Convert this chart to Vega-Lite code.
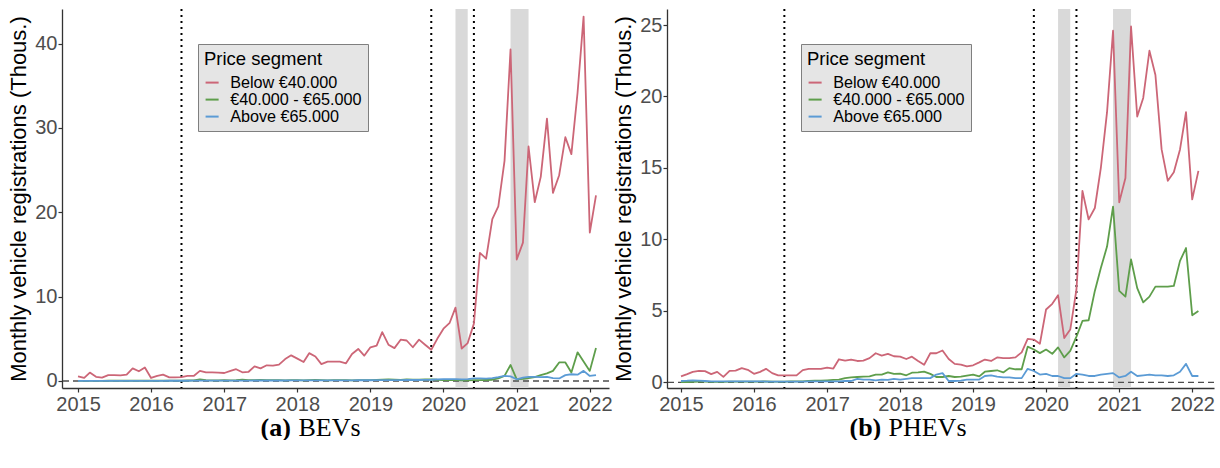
{
  "$schema": "https://vega.github.io/schema/vega-lite/v6.json",
  "padding": {"left": 7, "top": 8, "right": 0, "bottom": 0},
  "background": "white",
  "datasets": {
    "segments": [{"s": "lo", "name": "Below €40.000"}, {"s": "mid", "name": "€40.000 - €65.000"}, {"s": "hi", "name": "Above €65.000"}],
    "bev": [
      {"t":"2015-01","s":"lo","v":0.55},{"t":"2015-02","s":"lo","v":0.36},{"t":"2015-03","s":"lo","v":1.0},{"t":"2015-04","s":"lo","v":0.5},{"t":"2015-05","s":"lo","v":0.4},{"t":"2015-06","s":"lo","v":0.7},{"t":"2015-07","s":"lo","v":0.7},{"t":"2015-08","s":"lo","v":0.67},{"t":"2015-09","s":"lo","v":0.75},{"t":"2015-10","s":"lo","v":1.5},{"t":"2015-11","s":"lo","v":1.15},{"t":"2015-12","s":"lo","v":1.6},
      {"t":"2016-01","s":"lo","v":0.36},{"t":"2016-02","s":"lo","v":0.6},{"t":"2016-03","s":"lo","v":0.75},{"t":"2016-04","s":"lo","v":0.43},{"t":"2016-05","s":"lo","v":0.43},{"t":"2016-06","s":"lo","v":0.47},{"t":"2016-07","s":"lo","v":0.6},{"t":"2016-08","s":"lo","v":0.6},{"t":"2016-09","s":"lo","v":1.2},{"t":"2016-10","s":"lo","v":1.03},{"t":"2016-11","s":"lo","v":1.03},{"t":"2016-12","s":"lo","v":1.0},
      {"t":"2017-01","s":"lo","v":0.95},{"t":"2017-02","s":"lo","v":1.2},{"t":"2017-03","s":"lo","v":1.4},{"t":"2017-04","s":"lo","v":1.03},{"t":"2017-05","s":"lo","v":1.07},{"t":"2017-06","s":"lo","v":1.74},{"t":"2017-07","s":"lo","v":1.5},{"t":"2017-08","s":"lo","v":1.86},{"t":"2017-09","s":"lo","v":1.82},{"t":"2017-10","s":"lo","v":1.94},{"t":"2017-11","s":"lo","v":2.6},{"t":"2017-12","s":"lo","v":3.04},
      {"t":"2018-01","s":"lo","v":2.65},{"t":"2018-02","s":"lo","v":2.25},{"t":"2018-03","s":"lo","v":3.3},{"t":"2018-04","s":"lo","v":2.9},{"t":"2018-05","s":"lo","v":2.0},{"t":"2018-06","s":"lo","v":2.3},{"t":"2018-07","s":"lo","v":2.3},{"t":"2018-08","s":"lo","v":2.3},{"t":"2018-09","s":"lo","v":2.1},{"t":"2018-10","s":"lo","v":3.2},{"t":"2018-11","s":"lo","v":3.8},{"t":"2018-12","s":"lo","v":3.0},
      {"t":"2019-01","s":"lo","v":4.0},{"t":"2019-02","s":"lo","v":4.2},{"t":"2019-03","s":"lo","v":5.8},{"t":"2019-04","s":"lo","v":4.3},{"t":"2019-05","s":"lo","v":3.9},{"t":"2019-06","s":"lo","v":4.9},{"t":"2019-07","s":"lo","v":4.8},{"t":"2019-08","s":"lo","v":4.0},{"t":"2019-09","s":"lo","v":4.9},{"t":"2019-10","s":"lo","v":4.3},{"t":"2019-11","s":"lo","v":3.7},{"t":"2019-12","s":"lo","v":5.0},
      {"t":"2020-01","s":"lo","v":6.2},{"t":"2020-02","s":"lo","v":6.9},{"t":"2020-03","s":"lo","v":8.7},{"t":"2020-04","s":"lo","v":3.85},{"t":"2020-05","s":"lo","v":4.5},{"t":"2020-06","s":"lo","v":6.8},{"t":"2020-07","s":"lo","v":15.2},{"t":"2020-08","s":"lo","v":14.5},{"t":"2020-09","s":"lo","v":19.2},{"t":"2020-10","s":"lo","v":20.7},{"t":"2020-11","s":"lo","v":26.1},{"t":"2020-12","s":"lo","v":39.3},
      {"t":"2021-01","s":"lo","v":14.4},{"t":"2021-02","s":"lo","v":16.4},{"t":"2021-03","s":"lo","v":27.8},{"t":"2021-04","s":"lo","v":21.2},{"t":"2021-05","s":"lo","v":24.2},{"t":"2021-06","s":"lo","v":31.1},{"t":"2021-07","s":"lo","v":22.3},{"t":"2021-08","s":"lo","v":24.4},{"t":"2021-09","s":"lo","v":28.9},{"t":"2021-10","s":"lo","v":26.9},{"t":"2021-11","s":"lo","v":34.2},{"t":"2021-12","s":"lo","v":43.2},
      {"t":"2022-01","s":"lo","v":17.6},{"t":"2022-02","s":"lo","v":22.0},
      {"t":"2015-01","s":"mid","v":0.02},{"t":"2015-02","s":"mid","v":0.02},{"t":"2015-03","s":"mid","v":0.02},{"t":"2015-04","s":"mid","v":0.02},{"t":"2015-05","s":"mid","v":0.02},{"t":"2015-06","s":"mid","v":0.03},{"t":"2015-07","s":"mid","v":0.03},{"t":"2015-08","s":"mid","v":0.03},{"t":"2015-09","s":"mid","v":0.03},{"t":"2015-10","s":"mid","v":0.03},{"t":"2015-11","s":"mid","v":0.03},{"t":"2015-12","s":"mid","v":0.03},
      {"t":"2016-01","s":"mid","v":0.03},{"t":"2016-02","s":"mid","v":0.03},{"t":"2016-03","s":"mid","v":0.04},{"t":"2016-04","s":"mid","v":0.04},{"t":"2016-05","s":"mid","v":0.04},{"t":"2016-06","s":"mid","v":0.05},{"t":"2016-07","s":"mid","v":0.06},{"t":"2016-08","s":"mid","v":0.08},{"t":"2016-09","s":"mid","v":0.2},{"t":"2016-10","s":"mid","v":0.1},{"t":"2016-11","s":"mid","v":0.08},{"t":"2016-12","s":"mid","v":0.08},
      {"t":"2017-01","s":"mid","v":0.1},{"t":"2017-02","s":"mid","v":0.08},{"t":"2017-03","s":"mid","v":0.1},{"t":"2017-04","s":"mid","v":0.15},{"t":"2017-05","s":"mid","v":0.1},{"t":"2017-06","s":"mid","v":0.1},{"t":"2017-07","s":"mid","v":0.12},{"t":"2017-08","s":"mid","v":0.1},{"t":"2017-09","s":"mid","v":0.1},{"t":"2017-10","s":"mid","v":0.1},{"t":"2017-11","s":"mid","v":0.08},{"t":"2017-12","s":"mid","v":0.1},
      {"t":"2018-01","s":"mid","v":0.1},{"t":"2018-02","s":"mid","v":0.08},{"t":"2018-03","s":"mid","v":0.1},{"t":"2018-04","s":"mid","v":0.12},{"t":"2018-05","s":"mid","v":0.1},{"t":"2018-06","s":"mid","v":0.08},{"t":"2018-07","s":"mid","v":0.1},{"t":"2018-08","s":"mid","v":0.1},{"t":"2018-09","s":"mid","v":0.1},{"t":"2018-10","s":"mid","v":0.08},{"t":"2018-11","s":"mid","v":0.1},{"t":"2018-12","s":"mid","v":0.1},
      {"t":"2019-01","s":"mid","v":0.1},{"t":"2019-02","s":"mid","v":0.12},{"t":"2019-03","s":"mid","v":0.15},{"t":"2019-04","s":"mid","v":0.18},{"t":"2019-05","s":"mid","v":0.15},{"t":"2019-06","s":"mid","v":0.12},{"t":"2019-07","s":"mid","v":0.18},{"t":"2019-08","s":"mid","v":0.15},{"t":"2019-09","s":"mid","v":0.15},{"t":"2019-10","s":"mid","v":0.18},{"t":"2019-11","s":"mid","v":0.2},{"t":"2019-12","s":"mid","v":0.15},
      {"t":"2020-01","s":"mid","v":0.12},{"t":"2020-02","s":"mid","v":0.12},{"t":"2020-03","s":"mid","v":0.1},{"t":"2020-04","s":"mid","v":0.08},{"t":"2020-05","s":"mid","v":0.08},{"t":"2020-06","s":"mid","v":0.1},{"t":"2020-07","s":"mid","v":0.1},{"t":"2020-08","s":"mid","v":0.12},{"t":"2020-09","s":"mid","v":0.15},{"t":"2020-10","s":"mid","v":0.3},{"t":"2020-11","s":"mid","v":0.6},{"t":"2020-12","s":"mid","v":1.9},
      {"t":"2021-01","s":"mid","v":0.2},{"t":"2021-02","s":"mid","v":0.25},{"t":"2021-03","s":"mid","v":0.35},{"t":"2021-04","s":"mid","v":0.45},{"t":"2021-05","s":"mid","v":0.7},{"t":"2021-06","s":"mid","v":0.9},{"t":"2021-07","s":"mid","v":1.2},{"t":"2021-08","s":"mid","v":2.2},{"t":"2021-09","s":"mid","v":2.2},{"t":"2021-10","s":"mid","v":1.0},{"t":"2021-11","s":"mid","v":3.4},{"t":"2021-12","s":"mid","v":2.3},
      {"t":"2022-01","s":"mid","v":1.2},{"t":"2022-02","s":"mid","v":3.9},
      {"t":"2015-01","s":"hi","v":0.02},{"t":"2015-02","s":"hi","v":0.02},{"t":"2015-03","s":"hi","v":0.02},{"t":"2015-04","s":"hi","v":0.02},{"t":"2015-05","s":"hi","v":0.02},{"t":"2015-06","s":"hi","v":0.02},{"t":"2015-07","s":"hi","v":0.02},{"t":"2015-08","s":"hi","v":0.02},{"t":"2015-09","s":"hi","v":0.02},{"t":"2015-10","s":"hi","v":0.02},{"t":"2015-11","s":"hi","v":0.02},{"t":"2015-12","s":"hi","v":0.02},
      {"t":"2016-01","s":"hi","v":0.02},{"t":"2016-02","s":"hi","v":0.02},{"t":"2016-03","s":"hi","v":0.02},{"t":"2016-04","s":"hi","v":0.03},{"t":"2016-05","s":"hi","v":0.03},{"t":"2016-06","s":"hi","v":0.03},{"t":"2016-07","s":"hi","v":0.03},{"t":"2016-08","s":"hi","v":0.04},{"t":"2016-09","s":"hi","v":0.04},{"t":"2016-10","s":"hi","v":0.04},{"t":"2016-11","s":"hi","v":0.04},{"t":"2016-12","s":"hi","v":0.04},
      {"t":"2017-01","s":"hi","v":0.05},{"t":"2017-02","s":"hi","v":0.05},{"t":"2017-03","s":"hi","v":0.05},{"t":"2017-04","s":"hi","v":0.05},{"t":"2017-05","s":"hi","v":0.05},{"t":"2017-06","s":"hi","v":0.06},{"t":"2017-07","s":"hi","v":0.06},{"t":"2017-08","s":"hi","v":0.06},{"t":"2017-09","s":"hi","v":0.06},{"t":"2017-10","s":"hi","v":0.06},{"t":"2017-11","s":"hi","v":0.06},{"t":"2017-12","s":"hi","v":0.07},
      {"t":"2018-01","s":"hi","v":0.07},{"t":"2018-02","s":"hi","v":0.07},{"t":"2018-03","s":"hi","v":0.07},{"t":"2018-04","s":"hi","v":0.08},{"t":"2018-05","s":"hi","v":0.08},{"t":"2018-06","s":"hi","v":0.08},{"t":"2018-07","s":"hi","v":0.08},{"t":"2018-08","s":"hi","v":0.08},{"t":"2018-09","s":"hi","v":0.08},{"t":"2018-10","s":"hi","v":0.08},{"t":"2018-11","s":"hi","v":0.09},{"t":"2018-12","s":"hi","v":0.09},
      {"t":"2019-01","s":"hi","v":0.09},{"t":"2019-02","s":"hi","v":0.1},{"t":"2019-03","s":"hi","v":0.1},{"t":"2019-04","s":"hi","v":0.1},{"t":"2019-05","s":"hi","v":0.1},{"t":"2019-06","s":"hi","v":0.1},{"t":"2019-07","s":"hi","v":0.12},{"t":"2019-08","s":"hi","v":0.12},{"t":"2019-09","s":"hi","v":0.12},{"t":"2019-10","s":"hi","v":0.14},{"t":"2019-11","s":"hi","v":0.15},{"t":"2019-12","s":"hi","v":0.2},
      {"t":"2020-01","s":"hi","v":0.22},{"t":"2020-02","s":"hi","v":0.22},{"t":"2020-03","s":"hi","v":0.22},{"t":"2020-04","s":"hi","v":0.2},{"t":"2020-05","s":"hi","v":0.22},{"t":"2020-06","s":"hi","v":0.3},{"t":"2020-07","s":"hi","v":0.32},{"t":"2020-08","s":"hi","v":0.28},{"t":"2020-09","s":"hi","v":0.35},{"t":"2020-10","s":"hi","v":0.45},{"t":"2020-11","s":"hi","v":0.6},{"t":"2020-12","s":"hi","v":0.55},
      {"t":"2021-01","s":"hi","v":0.2},{"t":"2021-02","s":"hi","v":0.4},{"t":"2021-03","s":"hi","v":0.5},{"t":"2021-04","s":"hi","v":0.5},{"t":"2021-05","s":"hi","v":0.45},{"t":"2021-06","s":"hi","v":0.5},{"t":"2021-07","s":"hi","v":0.35},{"t":"2021-08","s":"hi","v":0.3},{"t":"2021-09","s":"hi","v":0.7},{"t":"2021-10","s":"hi","v":0.8},{"t":"2021-11","s":"hi","v":0.75},{"t":"2021-12","s":"hi","v":1.2},
      {"t":"2022-01","s":"hi","v":0.6},{"t":"2022-02","s":"hi","v":0.7}
    ],
    "phev": [
      {"t":"2015-01","s":"lo","v":0.42},{"t":"2015-02","s":"lo","v":0.58},{"t":"2015-03","s":"lo","v":0.74},{"t":"2015-04","s":"lo","v":0.81},{"t":"2015-05","s":"lo","v":0.79},{"t":"2015-06","s":"lo","v":0.58},{"t":"2015-07","s":"lo","v":0.74},{"t":"2015-08","s":"lo","v":0.39},{"t":"2015-09","s":"lo","v":0.81},{"t":"2015-10","s":"lo","v":0.83},{"t":"2015-11","s":"lo","v":1.0},{"t":"2015-12","s":"lo","v":0.88},
      {"t":"2016-01","s":"lo","v":0.6},{"t":"2016-02","s":"lo","v":0.74},{"t":"2016-03","s":"lo","v":0.95},{"t":"2016-04","s":"lo","v":0.65},{"t":"2016-05","s":"lo","v":0.49},{"t":"2016-06","s":"lo","v":0.49},{"t":"2016-07","s":"lo","v":0.49},{"t":"2016-08","s":"lo","v":0.49},{"t":"2016-09","s":"lo","v":0.86},{"t":"2016-10","s":"lo","v":0.95},{"t":"2016-11","s":"lo","v":0.95},{"t":"2016-12","s":"lo","v":0.95},
      {"t":"2017-01","s":"lo","v":1.04},{"t":"2017-02","s":"lo","v":0.97},{"t":"2017-03","s":"lo","v":1.62},{"t":"2017-04","s":"lo","v":1.53},{"t":"2017-05","s":"lo","v":1.6},{"t":"2017-06","s":"lo","v":1.5},{"t":"2017-07","s":"lo","v":1.53},{"t":"2017-08","s":"lo","v":1.7},{"t":"2017-09","s":"lo","v":2.04},{"t":"2017-10","s":"lo","v":1.88},{"t":"2017-11","s":"lo","v":2.0},{"t":"2017-12","s":"lo","v":1.83},
      {"t":"2018-01","s":"lo","v":1.81},{"t":"2018-02","s":"lo","v":1.64},{"t":"2018-03","s":"lo","v":1.8},{"t":"2018-04","s":"lo","v":1.5},{"t":"2018-05","s":"lo","v":1.23},{"t":"2018-06","s":"lo","v":2.04},{"t":"2018-07","s":"lo","v":2.04},{"t":"2018-08","s":"lo","v":2.23},{"t":"2018-09","s":"lo","v":1.64},{"t":"2018-10","s":"lo","v":1.3},{"t":"2018-11","s":"lo","v":1.25},{"t":"2018-12","s":"lo","v":1.12},
      {"t":"2019-01","s":"lo","v":1.2},{"t":"2019-02","s":"lo","v":1.4},{"t":"2019-03","s":"lo","v":1.6},{"t":"2019-04","s":"lo","v":1.5},{"t":"2019-05","s":"lo","v":1.75},{"t":"2019-06","s":"lo","v":1.7},{"t":"2019-07","s":"lo","v":1.7},{"t":"2019-08","s":"lo","v":1.75},{"t":"2019-09","s":"lo","v":2.1},{"t":"2019-10","s":"lo","v":3.05},{"t":"2019-11","s":"lo","v":3.0},{"t":"2019-12","s":"lo","v":2.7},
      {"t":"2020-01","s":"lo","v":5.1},{"t":"2020-02","s":"lo","v":5.5},{"t":"2020-03","s":"lo","v":6.1},{"t":"2020-04","s":"lo","v":3.1},{"t":"2020-05","s":"lo","v":3.7},{"t":"2020-06","s":"lo","v":6.5},{"t":"2020-07","s":"lo","v":13.4},{"t":"2020-08","s":"lo","v":11.4},{"t":"2020-09","s":"lo","v":12.2},{"t":"2020-10","s":"lo","v":15.0},{"t":"2020-11","s":"lo","v":18.9},{"t":"2020-12","s":"lo","v":24.6},
      {"t":"2021-01","s":"lo","v":12.6},{"t":"2021-02","s":"lo","v":14.3},{"t":"2021-03","s":"lo","v":24.9},{"t":"2021-04","s":"lo","v":18.6},{"t":"2021-05","s":"lo","v":19.9},{"t":"2021-06","s":"lo","v":23.2},{"t":"2021-07","s":"lo","v":21.5},{"t":"2021-08","s":"lo","v":16.3},{"t":"2021-09","s":"lo","v":14.1},{"t":"2021-10","s":"lo","v":14.7},{"t":"2021-11","s":"lo","v":16.3},{"t":"2021-12","s":"lo","v":18.9},
      {"t":"2022-01","s":"lo","v":12.8},{"t":"2022-02","s":"lo","v":14.8},
      {"t":"2015-01","s":"mid","v":0.03},{"t":"2015-02","s":"mid","v":0.03},{"t":"2015-03","s":"mid","v":0.04},{"t":"2015-04","s":"mid","v":0.05},{"t":"2015-05","s":"mid","v":0.05},{"t":"2015-06","s":"mid","v":0.04},{"t":"2015-07","s":"mid","v":0.04},{"t":"2015-08","s":"mid","v":0.04},{"t":"2015-09","s":"mid","v":0.05},{"t":"2015-10","s":"mid","v":0.06},{"t":"2015-11","s":"mid","v":0.06},{"t":"2015-12","s":"mid","v":0.05},
      {"t":"2016-01","s":"mid","v":0.06},{"t":"2016-02","s":"mid","v":0.06},{"t":"2016-03","s":"mid","v":0.07},{"t":"2016-04","s":"mid","v":0.06},{"t":"2016-05","s":"mid","v":0.06},{"t":"2016-06","s":"mid","v":0.06},{"t":"2016-07","s":"mid","v":0.07},{"t":"2016-08","s":"mid","v":0.08},{"t":"2016-09","s":"mid","v":0.08},{"t":"2016-10","s":"mid","v":0.1},{"t":"2016-11","s":"mid","v":0.12},{"t":"2016-12","s":"mid","v":0.12},
      {"t":"2017-01","s":"mid","v":0.15},{"t":"2017-02","s":"mid","v":0.18},{"t":"2017-03","s":"mid","v":0.2},{"t":"2017-04","s":"mid","v":0.3},{"t":"2017-05","s":"mid","v":0.35},{"t":"2017-06","s":"mid","v":0.38},{"t":"2017-07","s":"mid","v":0.4},{"t":"2017-08","s":"mid","v":0.42},{"t":"2017-09","s":"mid","v":0.55},{"t":"2017-10","s":"mid","v":0.55},{"t":"2017-11","s":"mid","v":0.7},{"t":"2017-12","s":"mid","v":0.6},
      {"t":"2018-01","s":"mid","v":0.62},{"t":"2018-02","s":"mid","v":0.5},{"t":"2018-03","s":"mid","v":0.68},{"t":"2018-04","s":"mid","v":0.7},{"t":"2018-05","s":"mid","v":0.75},{"t":"2018-06","s":"mid","v":0.6},{"t":"2018-07","s":"mid","v":0.38},{"t":"2018-08","s":"mid","v":0.38},{"t":"2018-09","s":"mid","v":0.45},{"t":"2018-10","s":"mid","v":0.38},{"t":"2018-11","s":"mid","v":0.4},{"t":"2018-12","s":"mid","v":0.48},
      {"t":"2019-01","s":"mid","v":0.55},{"t":"2019-02","s":"mid","v":0.42},{"t":"2019-03","s":"mid","v":0.75},{"t":"2019-04","s":"mid","v":0.8},{"t":"2019-05","s":"mid","v":0.85},{"t":"2019-06","s":"mid","v":0.7},{"t":"2019-07","s":"mid","v":1.0},{"t":"2019-08","s":"mid","v":0.92},{"t":"2019-09","s":"mid","v":0.92},{"t":"2019-10","s":"mid","v":2.5},{"t":"2019-11","s":"mid","v":2.3},{"t":"2019-12","s":"mid","v":2.05},
      {"t":"2020-01","s":"mid","v":2.3},{"t":"2020-02","s":"mid","v":2.0},{"t":"2020-03","s":"mid","v":2.45},{"t":"2020-04","s":"mid","v":1.75},{"t":"2020-05","s":"mid","v":2.2},{"t":"2020-06","s":"mid","v":3.2},{"t":"2020-07","s":"mid","v":4.3},{"t":"2020-08","s":"mid","v":4.35},{"t":"2020-09","s":"mid","v":6.4},{"t":"2020-10","s":"mid","v":8.0},{"t":"2020-11","s":"mid","v":9.5},{"t":"2020-12","s":"mid","v":12.3},
      {"t":"2021-01","s":"mid","v":6.4},{"t":"2021-02","s":"mid","v":6.0},{"t":"2021-03","s":"mid","v":8.6},{"t":"2021-04","s":"mid","v":6.6},{"t":"2021-05","s":"mid","v":5.6},{"t":"2021-06","s":"mid","v":6.0},{"t":"2021-07","s":"mid","v":6.7},{"t":"2021-08","s":"mid","v":6.7},{"t":"2021-09","s":"mid","v":6.7},{"t":"2021-10","s":"mid","v":6.75},{"t":"2021-11","s":"mid","v":8.5},{"t":"2021-12","s":"mid","v":9.4},
      {"t":"2022-01","s":"mid","v":4.7},{"t":"2022-02","s":"mid","v":5.0},
      {"t":"2015-01","s":"hi","v":0.1},{"t":"2015-02","s":"hi","v":0.12},{"t":"2015-03","s":"hi","v":0.15},{"t":"2015-04","s":"hi","v":0.12},{"t":"2015-05","s":"hi","v":0.1},{"t":"2015-06","s":"hi","v":0.08},{"t":"2015-07","s":"hi","v":0.08},{"t":"2015-08","s":"hi","v":0.08},{"t":"2015-09","s":"hi","v":0.08},{"t":"2015-10","s":"hi","v":0.08},{"t":"2015-11","s":"hi","v":0.07},{"t":"2015-12","s":"hi","v":0.07},
      {"t":"2016-01","s":"hi","v":0.07},{"t":"2016-02","s":"hi","v":0.07},{"t":"2016-03","s":"hi","v":0.06},{"t":"2016-04","s":"hi","v":0.06},{"t":"2016-05","s":"hi","v":0.06},{"t":"2016-06","s":"hi","v":0.05},{"t":"2016-07","s":"hi","v":0.05},{"t":"2016-08","s":"hi","v":0.05},{"t":"2016-09","s":"hi","v":0.06},{"t":"2016-10","s":"hi","v":0.07},{"t":"2016-11","s":"hi","v":0.08},{"t":"2016-12","s":"hi","v":0.08},
      {"t":"2017-01","s":"hi","v":0.08},{"t":"2017-02","s":"hi","v":0.08},{"t":"2017-03","s":"hi","v":0.08},{"t":"2017-04","s":"hi","v":0.1},{"t":"2017-05","s":"hi","v":0.1},{"t":"2017-06","s":"hi","v":0.25},{"t":"2017-07","s":"hi","v":0.2},{"t":"2017-08","s":"hi","v":0.2},{"t":"2017-09","s":"hi","v":0.15},{"t":"2017-10","s":"hi","v":0.2},{"t":"2017-11","s":"hi","v":0.18},{"t":"2017-12","s":"hi","v":0.25},
      {"t":"2018-01","s":"hi","v":0.2},{"t":"2018-02","s":"hi","v":0.25},{"t":"2018-03","s":"hi","v":0.3},{"t":"2018-04","s":"hi","v":0.3},{"t":"2018-05","s":"hi","v":0.3},{"t":"2018-06","s":"hi","v":0.3},{"t":"2018-07","s":"hi","v":0.55},{"t":"2018-08","s":"hi","v":0.65},{"t":"2018-09","s":"hi","v":0.1},{"t":"2018-10","s":"hi","v":0.1},{"t":"2018-11","s":"hi","v":0.12},{"t":"2018-12","s":"hi","v":0.2},
      {"t":"2019-01","s":"hi","v":0.2},{"t":"2019-02","s":"hi","v":0.2},{"t":"2019-03","s":"hi","v":0.45},{"t":"2019-04","s":"hi","v":0.5},{"t":"2019-05","s":"hi","v":0.4},{"t":"2019-06","s":"hi","v":0.35},{"t":"2019-07","s":"hi","v":0.35},{"t":"2019-08","s":"hi","v":0.3},{"t":"2019-09","s":"hi","v":0.3},{"t":"2019-10","s":"hi","v":0.95},{"t":"2019-11","s":"hi","v":0.8},{"t":"2019-12","s":"hi","v":0.55},
      {"t":"2020-01","s":"hi","v":0.6},{"t":"2020-02","s":"hi","v":0.45},{"t":"2020-03","s":"hi","v":0.45},{"t":"2020-04","s":"hi","v":0.3},{"t":"2020-05","s":"hi","v":0.3},{"t":"2020-06","s":"hi","v":0.6},{"t":"2020-07","s":"hi","v":0.55},{"t":"2020-08","s":"hi","v":0.45},{"t":"2020-09","s":"hi","v":0.45},{"t":"2020-10","s":"hi","v":0.55},{"t":"2020-11","s":"hi","v":0.6},{"t":"2020-12","s":"hi","v":0.65},
      {"t":"2021-01","s":"hi","v":0.35},{"t":"2021-02","s":"hi","v":0.45},{"t":"2021-03","s":"hi","v":0.75},{"t":"2021-04","s":"hi","v":0.45},{"t":"2021-05","s":"hi","v":0.5},{"t":"2021-06","s":"hi","v":0.55},{"t":"2021-07","s":"hi","v":0.5},{"t":"2021-08","s":"hi","v":0.5},{"t":"2021-09","s":"hi","v":0.45},{"t":"2021-10","s":"hi","v":0.5},{"t":"2021-11","s":"hi","v":0.75},{"t":"2021-12","s":"hi","v":1.3},
      {"t":"2022-01","s":"hi","v":0.45},{"t":"2022-02","s":"hi","v":0.45}
    ]
  },
  "hconcat": [
    {
      "width": 547,
      "height": 379,
      "layer": [
        {
          "data": {"values": [{"a": "2020-03-01", "b": "2020-05-01"}, {"a": "2020-12-01", "b": "2021-03-01"}]},
          "mark": {"type": "rect", "color": "#d9d9d9", "opacity": 1},
          "encoding": {
            "x": {"field": "a", "type": "temporal", "axis": {"orient": "bottom", "labels": false, "ticks": false, "domain": false, "title": "BEVs", "titleFont": "Liberation Serif", "titleFontSize": 26, "titleFontWeight": "normal", "titleColor": "black", "titleX": 236, "titleY": 47, "titleAlign": "left", "titleBaseline": "alphabetic", "titleAngle": 0}},
            "x2": {"field": "b"}
          }
        },
        {
          "data": {"values": [{}]},
          "mark": {"type": "rule", "color": "#4d4d4d", "strokeDash": [6, 4], "strokeWidth": 1.3},
          "encoding": {"y": {"datum": 0, "type": "quantitative"}}
        },
        {
          "data": {"values": [{"d": "2016-06-01"}, {"d": "2019-11-01"}, {"d": "2020-06-01"}]},
          "mark": {"type": "rule", "color": "black", "strokeDash": [2, 4], "strokeWidth": 2},
          "encoding": {"x": {"field": "d", "type": "temporal", "axis": null}}
        },
        {
          "data": {"name": "bev", "format": {"parse": {"t": "utc:'%Y-%m'"}}},
          "transform": [{"lookup": "s", "from": {"data": {"name": "segments"}, "key": "s", "fields": ["name"]}}],
          "mark": {"type": "line", "strokeWidth": 1.8, "strokeJoin": "round"},
          "encoding": {
            "x": {"field": "t", "type": "temporal",
              "scale": {"type": "utc", "domain": [{"year": 2014, "month": 10, "date": 13, "utc": true}, {"year": 2022, "month": 4, "date": 7, "utc": true}]},
              "axis": {"orient": "bottom", "values": [{"year": 2015, "utc": true}, {"year": 2016, "utc": true}, {"year": 2017, "utc": true}, {"year": 2018, "utc": true}, {"year": 2019, "utc": true}, {"year": 2020, "utc": true}, {"year": 2021, "utc": true}, {"year": 2022, "utc": true}], "format": "%Y", "labelFlush": false, "labelOverlap": false, "title": "(a)", "titleFont": "Liberation Serif", "titleFontSize": 26, "titleFontWeight": "bold", "titleColor": "black", "titleX": 198, "titleY": 47, "titleAlign": "left", "titleBaseline": "alphabetic"}},
            "y": {"field": "v", "type": "quantitative",
              "scale": {"domain": [-0.83, 44.1], "nice": false, "zero": false},
              "axis": {"values": [0, 10, 20, 30, 40], "title": "Monthly vehicle registrations (Thous.)"}},
            "color": {"field": "name", "type": "nominal",
              "scale": {"domain": ["Below €40.000", "€40.000 - €65.000", "Above €65.000"], "range": ["#CC6677", "#5E9E4B", "#5B9BD5"]},
              "legend": {"orient": "none", "legendX": 136, "legendY": 35, "title": "Price segment"}}
          }
        }
      ],
      "resolve": {"axis": {"x": "independent"}}
    },
    {
      "width": 547,
      "height": 379,
      "layer": [
        {
          "data": {"values": [{"a": "2020-03-01", "b": "2020-05-01"}, {"a": "2020-12-01", "b": "2021-03-01"}]},
          "mark": {"type": "rect", "color": "#d9d9d9", "opacity": 1},
          "encoding": {
            "x": {"field": "a", "type": "temporal", "axis": {"orient": "bottom", "labels": false, "ticks": false, "domain": false, "title": "PHEVs", "titleFont": "Liberation Serif", "titleFontSize": 26, "titleFontWeight": "normal", "titleColor": "black", "titleX": 221, "titleY": 47, "titleAlign": "left", "titleBaseline": "alphabetic", "titleAngle": 0}},
            "x2": {"field": "b"}
          }
        },
        {
          "data": {"values": [{}]},
          "mark": {"type": "rule", "color": "#4d4d4d", "strokeDash": [6, 4], "strokeWidth": 1.3},
          "encoding": {"y": {"datum": 0, "type": "quantitative"}}
        },
        {
          "data": {"values": [{"d": "2016-06-01"}, {"d": "2019-11-01"}, {"d": "2020-06-01"}]},
          "mark": {"type": "rule", "color": "black", "strokeDash": [2, 4], "strokeWidth": 2},
          "encoding": {"x": {"field": "d", "type": "temporal", "axis": null}}
        },
        {
          "data": {"name": "phev", "format": {"parse": {"t": "utc:'%Y-%m'"}}},
          "transform": [{"lookup": "s", "from": {"data": {"name": "segments"}, "key": "s", "fields": ["name"]}}],
          "mark": {"type": "line", "strokeWidth": 1.8, "strokeJoin": "round"},
          "encoding": {
            "x": {"field": "t", "type": "temporal",
              "scale": {"type": "utc", "domain": [{"year": 2014, "month": 10, "date": 23, "utc": true}, {"year": 2022, "month": 4, "date": 20, "utc": true}]},
              "axis": {"orient": "bottom", "values": [{"year": 2015, "utc": true}, {"year": 2016, "utc": true}, {"year": 2017, "utc": true}, {"year": 2018, "utc": true}, {"year": 2019, "utc": true}, {"year": 2020, "utc": true}, {"year": 2021, "utc": true}, {"year": 2022, "utc": true}], "format": "%Y", "labelFlush": false, "labelOverlap": false, "title": "(b)", "titleFont": "Liberation Serif", "titleFontSize": 26, "titleFontWeight": "bold", "titleColor": "black", "titleX": 182, "titleY": 47, "titleAlign": "left", "titleBaseline": "alphabetic"}},
            "y": {"field": "v", "type": "quantitative",
              "scale": {"domain": [-0.39, 26.12], "nice": false, "zero": false},
              "axis": {"values": [0, 5, 10, 15, 20, 25], "title": "Monthly vehicle registrations (Thous.)"}},
            "color": {"field": "name", "type": "nominal",
              "scale": {"domain": ["Below €40.000", "€40.000 - €65.000", "Above €65.000"], "range": ["#CC6677", "#5E9E4B", "#5B9BD5"]},
              "legend": {"orient": "none", "legendX": 134, "legendY": 35, "title": "Price segment"}}
          }
        }
      ],
      "resolve": {"axis": {"x": "independent"}}
    }
  ],
  "spacing": -1,
  "resolve": {"scale": {"color": "independent"}, "legend": {"color": "independent"}},
  "config": {
    "view": {"stroke": null},
    "font": "Liberation Sans",
    "axis": {"grid": false, "domainColor": "#333333", "domainWidth": 1.3, "tickColor": "#333333", "tickWidth": 1.2, "tickSize": 4, "labelFont": "Liberation Sans", "labelFontSize": 20, "labelColor": "#4d4d4d", "titleFont": "Liberation Sans", "titleFontWeight": "normal", "titleColor": "black"},
    "axisY": {"labelPadding": 1, "titlePadding": 4, "titleFontSize": 22},
    "axisX": {"labelPadding": 2},
    "legend": {"fillColor": "#e5e5e5", "strokeColor": "#7f7f7f", "padding": 6, "cornerRadius": 0, "titleFont": "Liberation Sans", "titleFontSize": 18.5, "titleFontWeight": "normal", "titleColor": "black", "titlePadding": 6, "labelFont": "Liberation Sans", "labelFontSize": 16.2, "labelColor": "black", "labelOffset": 10, "symbolType": "stroke", "symbolSize": 170, "symbolStrokeWidth": 2, "rowPadding": 0}
  }
}
